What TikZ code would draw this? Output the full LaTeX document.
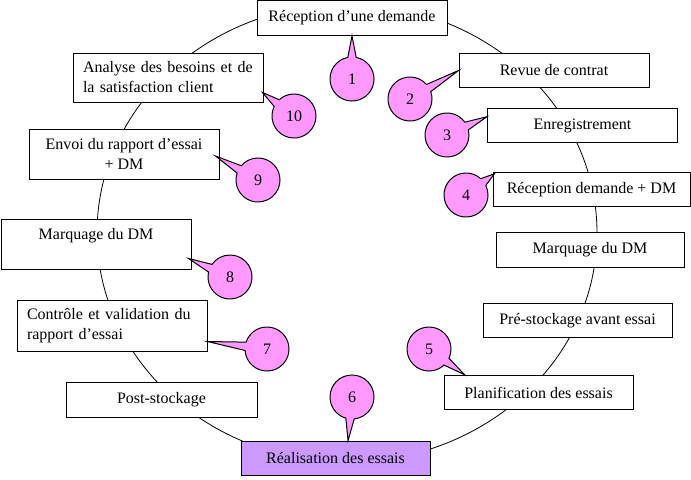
\documentclass[tikz,border=0pt]{standalone}
\usepackage{fontspec}
\setmainfont{Liberation Serif}
\usetikzlibrary{shapes.callouts}
\definecolor{bulle}{HTML}{FF99FF}
\definecolor{violet}{HTML}{CC99FF}
\tikzset{
  box/.style={draw, fill=white, line width=0.75pt, inner sep=0pt,
    font=\fontsize{12}{15}\selectfont, minimum width=142.5pt, minimum height=26pt, align=center},
  leftbox/.style={box, align=left, inner xsep=7.5pt, text width=127.5pt},
  bubble/.style={ellipse callout, draw, fill=bulle, line width=0.75pt, inner sep=0pt,
    minimum width=33pt, minimum height=33pt, callout pointer arc=22,
    font=\fontsize{12}{15}\selectfont},
  ring/.style={line width=0.6pt}
}
\begin{document}
\begin{tikzpicture}[x=0.75pt,y=-0.75pt]
\useasboundingbox (0,0) rectangle (691,479);
\coordinate (centre) at (347,233);
\draw[ring] (centre) ellipse [x radius=187.5pt, y radius=171.75pt];

\node[box] (b1) at (352,18) {Réception d’une demande};
\node[box] (b2) at (554,70.5) {Revue de contrat};
\node[box] (b3) at (582.5,125.5) {Enregistrement};
\node[box, minimum width=147.75pt] (b4) at (591.5,189.5) {Réception demande + DM};
\node[box, minimum width=141pt] (b5) at (590,250) {Marquage du DM};
\node[box, minimum width=141.75pt] (b6) at (577.5,320.5) {Pré-stockage avant essai};
\node[box, minimum width=141.75pt] (b7) at (538.5,392.5) {Planification des essais};
\node[box, minimum width=141.75pt, fill=violet] (b8) at (335.5,458.5) {Réalisation des essais};
\node[box, minimum width=143.25pt] (b9) at (161.5,400) {Post-stockage};
\node[leftbox, minimum height=38.25pt] (b10) at (112,325.5) {Contrôle et validation du\\rapport d’essai};
\node[box, minimum height=37.5pt] (b11) at (96,244) {Marquage du DM\\\mbox{}};
\node[box, minimum height=37.5pt] (b12) at (124,154) {Envoi du rapport d’essai\\+ DM};
\node[leftbox, minimum height=36.75pt] (b13) at (168,77.5) {Analyse des besoins et de\\la satisfaction client};

\node[bubble, callout absolute pointer={(b1.south)}] (c1) at (352,79) {1};
\node[bubble, callout absolute pointer={(b2.west)}] (c2) at (410,99) {2};
\node[bubble, callout absolute pointer={([yshift=-6.75pt]b3.north west)}] (c3) at (447,135) {3};
\node[bubble, callout absolute pointer={([xshift=1.5pt,yshift=-1.5pt]b4.north west)}] (c4) at (466,195) {4};
\node[bubble, callout absolute pointer={([xshift=15.75pt]b7.north west)}] (c5) at (429,349) {5};
\node[bubble, callout absolute pointer={([xshift=9.4pt]b8.north)}] (c6) at (352,397) {6};
\node[bubble, callout absolute pointer={([yshift=7.5pt]b10.south east)}] (c7) at (267,349) {7};
\node[bubble, callout absolute pointer={([xshift=-2.25pt,yshift=8.25pt]b11.south east)}] (c8) at (230,277) {8};
\node[bubble, callout absolute pointer={([xshift=-3pt,yshift=-1.5pt]b12.east)}] (c9) at (258,180) {9};
\node[bubble, callout absolute pointer={([xshift=-0.75pt,yshift=7.5pt]b13.south east)}] (c10) at (294,116) {10};
\end{tikzpicture}
\end{document}
